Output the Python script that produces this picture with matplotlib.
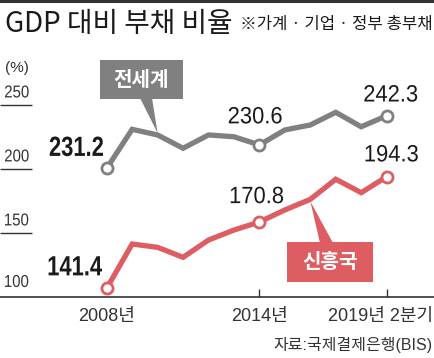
import numpy as np
import matplotlib
matplotlib.use("Agg")
import matplotlib.pyplot as plt
from matplotlib.patches import Rectangle, Polygon, PathPatch
from matplotlib.lines import Line2D
from matplotlib.textpath import TextPath
from matplotlib.font_manager import FontProperties
from matplotlib.transforms import Affine2D

# Data (plotted positions in axis units)
years = ["2008", "2009", "2010", "2011", "2012", "2013", "2014",
         "2015", "2016", "2017", "2018", "2019Q2"]
world = [200.5, 231.0, 226.6, 216.2, 226.6, 225.2, 218.8,
         230.5, 234.4, 244.3, 233.0, 241.6]
emerging = [106.8, 141.4, 138.8, 131.0, 144.5, 152.3, 158.6,
            168.0, 176.3, 192.0, 181.5, 194.0]
world_labels = ["231.2", "230.6", "242.3"]
emerging_labels = ["141.4", "170.8", "194.3"]
marked = [0, 6, 11]
yticks = [100, 150, 200, 250]
xtick_idx = [0, 6, 11]
xtick_labels = ["2008년", "2014년", "2019년 2분기"]

GRAY = "#808080"
RED = "#de5d62"
DARK = "#333333"
INK = "#1a1a1a"

W, H = 435, 358
plt.rcParams["font.family"] = ["Liberation Sans", "Noto Sans CJK KR", "DejaVu Sans"]

fig = plt.figure(figsize=(W / 100, H / 100), dpi=100)
ax = fig.add_axes([0, 0, 1, 1])
ax.axis("off")

# pixel layout of the plotting area
x0, dx = 106.7, 25.45
y100, ppu = 297, 1.28
ax.set_xlim(-x0 / dx, (W - x0) / dx)
ax.set_ylim(100 - (H - y100) / ppu, 100 + y100 / ppu)

def pdata(px, py):
    """pixel (from top-left) -> data coords"""
    return (-x0 / dx + px / dx, 100 + (y100 - py) / ppu)

def narrow(s, x, y, size, ha="center", off=(0, 0), squeeze=0.85, weight="normal", color=INK):
    """condensed text: glyph outline squeezed horizontally, ink centred vertically"""
    prop = FontProperties(family="Liberation Sans", weight=weight)
    tp = TextPath((0, 0), s, size=size, prop=prop)
    bb = tp.get_extents()
    if ha == "center":
        ox = -(bb.x0 + bb.width / 2) * squeeze
    elif ha == "right":
        ox = -bb.x1 * squeeze
    else:
        ox = -bb.x0 * squeeze
    oy = -(bb.y0 + bb.height / 2)
    k = fig.dpi / 72
    ax_, ay_ = ax.transData.transform((x, y))
    tr = (Affine2D().scale(squeeze, 1).translate(ox, oy).scale(k)
          .translate(ax_ + off[0], ay_ + off[1]))
    ax.add_patch(PathPatch(tp, transform=tr, color=color, lw=0, zorder=7))

xs = np.arange(len(years))

# axis decorations
ax.axhline(100, color=DARK, lw=1.2)
for t in yticks:
    if t != 100:
        ax.hlines(t, pdata(0, 0)[0], pdata(32, 0)[0], color=DARK, lw=1)
    narrow(str(t), pdata(5, 0)[0], t, 12.4, ha="left",
           off=(0, 16 if t == 100 else 13.5), squeeze=0.87, color=DARK)
ax.text(pdata(5, 0)[0], pdata(0, 68)[1], "(%)", fontsize=11, color=DARK,
        ha="left", va="center")
for i in xtick_idx[1:]:
    ax.vlines(i, 100, 100 + 8 / ppu, color=DARK, lw=1)
for i, lab in zip(xtick_idx, xtick_labels):
    ha = "center"
    xx = i
    if i == 11:
        ha = "right"
        xx = pdata(433, 0)[0]
    ax.annotate(lab, (xx, 100), xytext=(0, -14), textcoords="offset points",
                ha=ha, va="center", fontsize=13, color=DARK)

# lines
ax.plot(xs, world, color=GRAY, lw=3.8, solid_joinstyle="miter", zorder=3)
ax.plot(xs, emerging, color=RED, lw=3.8, solid_joinstyle="miter", zorder=3)
ax.plot(xs[marked], np.array(world)[marked], "o", ms=8, mfc="white", mec=GRAY, mew=2, zorder=4)
ax.plot(xs[marked], np.array(emerging)[marked], "o", ms=8, mfc="white", mec=RED, mew=2, zorder=4)

# value labels: (dx px, dy px, ha, weight)
w_off = [(-3.7, 22, "right", "bold"), (-4.2, 29.7, "center", "normal"), (4.1, 22.4, "center", "normal")]
e_off = [(-4.7, 22.5, "right", "bold"), (-2.5, 27, "center", "normal"), (5, 23.4, "center", "normal")]
for series, labels, offs in ((world, world_labels, w_off), (emerging, emerging_labels, e_off)):
    for i, lab, o in zip(marked, labels, offs):
        if o[3] == "bold":
            narrow(lab, i, series[i], 20, ha=o[2], off=o[:2], squeeze=0.79, weight="bold")
        else:
            narrow(lab, i, series[i], 17, ha=o[2], off=o[:2], squeeze=0.93)

# callouts
def callout(text, color, box, base, tip):
    (bx0, by0), (bx1, by1) = pdata(box[0], box[3]), pdata(box[2], box[1])
    poly = [pdata(*base[0]), pdata(*base[1]), tip]
    ax.add_patch(Polygon(poly, closed=True, color=color, lw=0, zorder=5))
    ax.add_patch(Rectangle((bx0, by0), bx1 - bx0, by1 - by0, color=color, lw=0, zorder=5))
    ax.text((bx0 + bx1) / 2, (by0 + by1) / 2, text, ha="center", va="center",
            fontsize=14.5, fontweight="bold", color="white", zorder=6,
            family=["Noto Sans CJK KR"])

callout("전세계", GRAY, (100, 60, 183, 99), [(140, 98), (152, 98)],
        (2.0, world[2] + 1.5))
callout("신흥국", RED, (287, 242, 373, 282), [(320, 243), (333, 243)],
        (8.0, emerging[8] - 1.5))

# title
fig.text(5 / W, 1 - 24 / H, "GDP 대비 부채 비율", fontsize=20, family=["Noto Sans CJK KR"],
         fontweight="medium", ha="left", va="center", color=INK)
fig.text(433 / W, 1 - 25 / H, "※가계 · 기업 · 정부 총부채", fontsize=12, family=["Noto Sans CJK KR"],
         ha="right", va="center", color=INK)
fig.add_artist(Line2D([0, 1], [1 - 1 / H, 1 - 1 / H], color=DARK, lw=2.2, transform=fig.transFigure))

fig.text(433 / W, 1 - 345 / H, "자료:국제결제은행(BIS)", fontsize=11.5, ha="right", va="center",
         color=DARK)

fig.savefig("out.png", dpi=100)
